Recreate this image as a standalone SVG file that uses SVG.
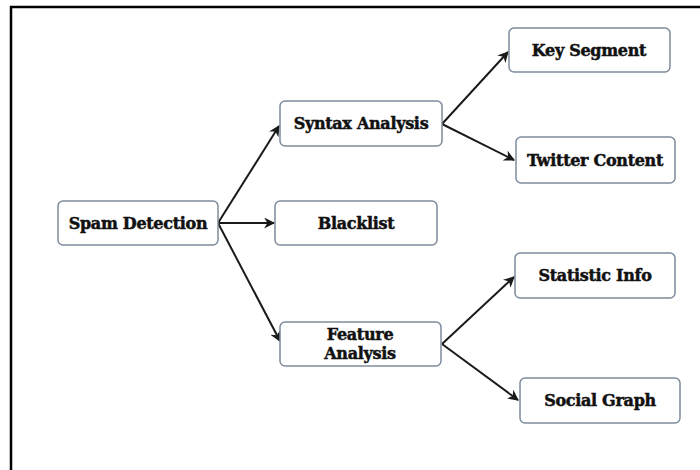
<svg xmlns="http://www.w3.org/2000/svg" width="700" height="470" viewBox="0 0 700 470">
<style>
.box{fill:#ffffff;stroke:#7d8c9c;stroke-width:1.5}
.lbl{font-family:"DejaVu Serif","Liberation Serif",serif;font-weight:bold;font-size:16px;letter-spacing:-0.3px;fill:#111;stroke:#111;stroke-width:0.5;text-anchor:middle}
.edge{stroke:#1a1a1a;stroke-width:2;fill:none;marker-end:url(#ah)}
</style>
<defs>
<marker id="ah" viewBox="0 0 10 10" refX="9" refY="5" markerWidth="5.5" markerHeight="5.5" orient="auto" markerUnits="strokeWidth">
<path d="M0,0 L10,5 L0,10 L3,5 Z" fill="#1a1a1a"/>
</marker>
</defs>
<rect x="0" y="0" width="700" height="470" fill="#ffffff"/>
<path d="M11,470 L11,7 L700,7" fill="none" stroke="#000" stroke-width="2.5"/>
<g id="connectors">
<line class="edge" x1="218" y1="223" x2="279" y2="126"/>
<line class="edge" x1="218" y1="223" x2="274" y2="223"/>
<line class="edge" x1="218" y1="223" x2="280" y2="341"/>
<line class="edge" x1="442" y1="124" x2="508" y2="52"/>
<line class="edge" x1="442" y1="124" x2="514" y2="160"/>
<line class="edge" x1="442" y1="344" x2="514" y2="277"/>
<line class="edge" x1="442" y1="344" x2="518" y2="400"/>
</g>
<g id="spam"><rect class="box" x="58" y="201" width="160" height="44" rx="5"/><text class="lbl" x="138" y="229">Spam Detection</text></g>
<g id="syntax"><rect class="box" x="280" y="101" width="162" height="45" rx="5"/><text class="lbl" x="361" y="129">Syntax Analysis</text></g>
<g id="blacklist"><rect class="box" x="275" y="201" width="162" height="44" rx="5"/><text class="lbl" x="356" y="229">Blacklist</text></g>
<g id="feature"><rect class="box" x="280" y="322" width="161" height="44" rx="5"/><text class="lbl" x="360" y="340">Feature</text><text class="lbl" x="360" y="359">Analysis</text></g>
<g id="keyseg"><rect class="box" x="509" y="28" width="161" height="44" rx="5"/><text class="lbl" x="589" y="56">Key Segment</text></g>
<g id="twitter"><rect class="box" x="516" y="137" width="159" height="46" rx="5"/><text class="lbl" x="595" y="166">Twitter Content</text></g>
<g id="statistic"><rect class="box" x="515" y="253" width="160" height="45" rx="5"/><text class="lbl" x="595" y="281">Statistic Info</text></g>
<g id="social"><rect class="box" x="520" y="378" width="160" height="45" rx="5"/><text class="lbl" x="600" y="406">Social Graph</text></g>
</svg>
